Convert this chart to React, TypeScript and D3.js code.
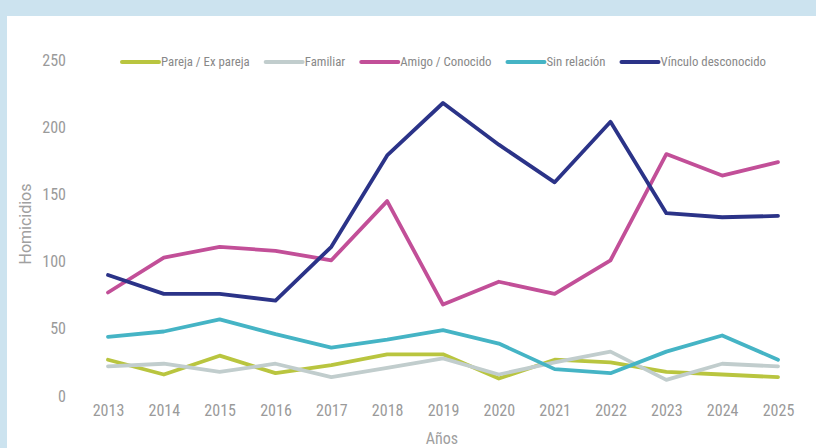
import React, { useEffect, useRef } from "react";
import * as d3 from "d3";

const years = [2013, 2014, 2015, 2016, 2017, 2018, 2019, 2020, 2021, 2022, 2023, 2024, 2025];
const seriesNames = ["Pareja / Ex pareja", "Familiar", "Amigo / Conocido", "Sin relación", "Vínculo desconocido"];
const pareja = [27, 16, 30, 17, 23, 31, 31, 13, 27, 25, 18, 16, 14];
const familiar = [22, 24, 18, 24, 14, 21, 28, 16, 25, 33, 12, 24, 22];
const amigo = [77, 103, 111, 108, 101, 145, 68, 85, 76, 101, 180, 164, 174];
const sinRelacion = [44, 48, 57, 46, 36, 42, 49, 39, 20, 17, 33, 45, 27];
const desconocido = [90, 76, 76, 71, 111, 179, 218, 187, 159, 204, 136, 133, 134];
const yTicks = [0, 50, 100, 150, 200, 250];
const colors = ["#b9c53f", "#c1cdcd", "#c24f98", "#45b4c5", "#2b3388"];

const W = 816;
const H = 448;
const COND = "'Roboto Condensed', 'Liberation Sans Narrow', 'DejaVu Sans Condensed', sans-serif";

export default function App() {
  const ref = useRef<SVGSVGElement | null>(null);
  useEffect(() => {
    const svg = d3.select(ref.current);
    svg.selectAll("*").remove();
    svg.append("rect").attr("width", W).attr("height", H).attr("fill", "#cce3ef");
    svg.append("rect").attr("x", 7).attr("y", 16).attr("width", W - 7).attr("height", H - 16).attr("fill", "#ffffff");

    const x = d3.scalePoint<number>().domain(years).range([108, 778]);
    const y = d3.scaleLinear().domain([0, 250]).range([396, 60]);

    const data = [pareja, familiar, amigo, sinRelacion, desconocido];

    const yAxis = svg.append("g").attr("transform", "translate(66,0)")
      .call(d3.axisLeft(y).tickValues(yTicks).tickSize(0).tickPadding(0));
    yAxis.select(".domain").remove();
    yAxis.selectAll("text").attr("font-family", COND).attr("font-size", 16).attr("fill", "#9a9a9a");

    const xAxis = svg.append("g").attr("transform", "translate(0,405)")
      .call(d3.axisBottom(x).tickFormat(d3.format("d")).tickSize(0).tickPadding(0));
    xAxis.select(".domain").remove();
    xAxis.selectAll("text").attr("font-family", COND).attr("font-size", 16).attr("fill", "#9a9a9a");

    svg.append("text").attr("x", 442).attr("y", 444).attr("text-anchor", "middle")
      .attr("font-family", COND).attr("font-size", 16).attr("fill", "#a0a0a0").text("Años");
    svg.append("text").attr("transform", "translate(31,224) rotate(-90)").attr("text-anchor", "middle")
      .attr("font-family", "Roboto, sans-serif").attr("font-size", 16).attr("fill", "#a0a0a0").text("Homicidios");

    const line = d3.line<number>().x((_, i) => x(years[i]) as number).y((d) => y(d));
    data.forEach((s, i) => {
      svg.append("path").attr("d", line(s)).attr("fill", "none").attr("stroke", colors[i])
        .attr("stroke-width", 3.8).attr("stroke-linejoin", "round").attr("stroke-linecap", "round");
    });

    const lg = svg.append("g");
    let cx = 122;
    const ly = 62;
    seriesNames.forEach((name, i) => {
      lg.append("line").attr("x1", cx).attr("x2", cx + 37).attr("y1", ly).attr("y2", ly)
        .attr("stroke", colors[i]).attr("stroke-width", 4).attr("stroke-linecap", "round");
      const t = lg.append("text").attr("x", cx + 39).attr("y", ly).attr("dy", "0.35em")
        .attr("font-family", COND).attr("font-size", 12.8).attr("fill", "#888888").text(name);
      const w = (t.node() as SVGTextElement).getComputedTextLength();
      cx = cx + 39 + w + 16;
    });
  }, []);
  return (
    <svg ref={ref} width={W} height={H} style={{ position: "absolute", left: 0, top: 0, display: "block" }} />
  );
}
